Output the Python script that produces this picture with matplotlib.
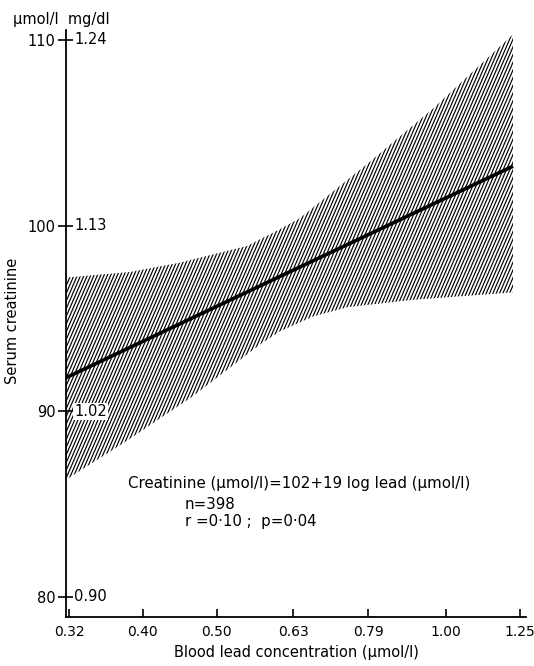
import numpy as np
import matplotlib
matplotlib.use("Agg")
import matplotlib.pyplot as plt
import matplotlib.hatch as mhatch
from matplotlib.path import Path
from matplotlib.ticker import NullLocator

plt.rcParams['font.family'] = ['DejaVu Sans']
plt.rcParams['hatch.color'] = 'black'
plt.rcParams['hatch.linewidth'] = 0.85


# steep (about 66 degree) hatch pattern, used in place of the '|' hatch
class SteepHatch(mhatch.HatchPatternBase):
    def __init__(self, hatch, density):
        self.num_lines = int(hatch.count('|') * density)
        self.k = int(round(0.433 * self.num_lines))
        self.num_vertices = (self.num_lines + self.k + 2) * 2 if self.num_lines else 0

    def set_vertices_and_codes(self, vertices, codes):
        n = self.num_lines
        s = self.k / n
        c = np.arange(-self.k - 1, n + 1) / n
        y0, y1 = -0.1, 1.1
        vertices[0::2, 0] = c + s * y0
        vertices[0::2, 1] = y0
        vertices[1::2, 0] = c + s * y1
        vertices[1::2, 1] = y1
        codes[0::2] = Path.MOVETO
        codes[1::2] = Path.LINETO


mhatch._hatch_types = [SteepHatch if t is mhatch.VerticalHatch else t
                       for t in mhatch._hatch_types]

# ---- data ----
xtick_vals = [0.32, 0.40, 0.50, 0.63, 0.79, 1.00, 1.25]
xtick_labels = ["0.32", "0.40", "0.50", "0.63", "0.79", "1.00", "1.25"]
ytick_vals = [80, 90, 100, 110]
ytick_labels = ["80", "90", "100", "110"]
mgdl_labels = ["0.90", "1.02", "1.13", "1.24"]

# upper 95% band boundary
upper_x = np.array([0.317, 0.385, 0.447, 0.548, 0.605, 0.643, 0.787, 0.961, 1.224])
upper_y = np.array([97.2, 97.5, 98.0, 98.9, 99.8, 100.4, 103.3, 106.3, 110.3])
# lower 95% band boundary
lower_x = np.array([0.317, 0.381, 0.465, 0.570, 0.605, 0.669, 0.741, 0.905, 1.224])
lower_y = np.array([86.3, 88.4, 90.8, 93.6, 94.3, 95.1, 95.6, 96.0, 96.4])
# regression line end points
line_x = np.array([0.317, 1.224])
line_y = np.array([91.8, 103.2])

fig = plt.figure(figsize=(5.34, 6.66), dpi=100)
ax = fig.add_axes([0.1236, 0.0736, 0.8614, 0.8814])

poly_x = np.concatenate([upper_x, lower_x[::-1]])
poly_y = np.concatenate([upper_y, lower_y[::-1]])
ax.fill(poly_x, poly_y, facecolor='white', edgecolor='black', linewidth=0,
        hatch='|||||', zorder=1)
ax.plot(line_x, line_y, color='black', linewidth=2.6, solid_capstyle='butt', zorder=3)

ax.set_xscale('log')
ax.set_xlim(0.3171, 1.273)
ax.set_ylim(78.91, 110.54)
ax.xaxis.set_minor_locator(NullLocator())
ax.yaxis.set_minor_locator(NullLocator())
ax.set_xticks(xtick_vals)
ax.set_xticklabels(xtick_labels)
ax.set_yticks(ytick_vals)
ax.set_yticklabels(ytick_labels)

for s in ['top', 'right']:
    ax.spines[s].set_visible(False)
for s in ['left', 'bottom']:
    ax.spines[s].set_linewidth(1.3)

ax.tick_params(axis='x', direction='in', length=6, width=1.2, pad=6, labelsize=10)
ax.tick_params(axis='y', direction='inout', length=11, width=1.2, pad=2, labelsize=10.5)

for v, lab in zip(ytick_vals, mgdl_labels):
    ax.text(0.0174, v, lab, transform=ax.get_yaxis_transform(), ha='left', va='center',
            fontsize=10.5, zorder=4,
            bbox=dict(facecolor='white', edgecolor='none', pad=0.6))

ax.set_ylabel("Serum creatinine", fontsize=10.5)
ax.yaxis.set_label_coords(-0.10, 0.505)
ax.set_xlabel("Blood lead concentration (µmol/l)", fontsize=10.5, labelpad=4)

fig.text(0.024, 0.970, "µmol/l  mg/dl", fontsize=10.5, ha='left', va='center')

ax.text(0.135, 0.228, "Creatinine (µmol/l)=102+19 log lead (µmol/l)", transform=ax.transAxes,
        fontsize=10.8, ha='left', va='center')
ax.text(0.258, 0.191, "n=398", transform=ax.transAxes, fontsize=10.8, ha='left', va='center')
ax.text(0.258, 0.162, "r =0·10 ;  p=0·04", transform=ax.transAxes, fontsize=10.8,
        ha='left', va='center')

fig.savefig("out.png", dpi=100)
